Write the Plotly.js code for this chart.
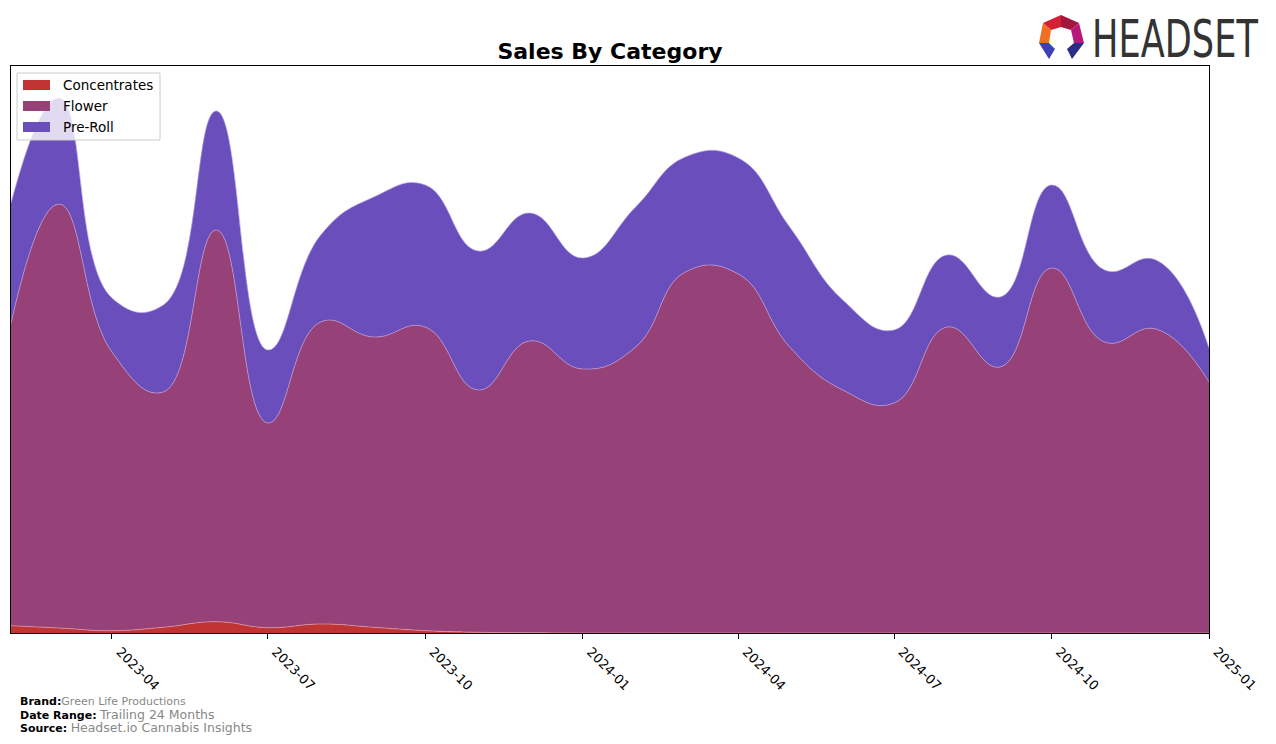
<!DOCTYPE html>
<html>
<head>
<meta charset="utf-8">
<script src="https://cdn.plot.ly/plotly-3.0.1.min.js"></script>
<style>
  html, body { margin: 0; padding: 0; background: #fff; }
  #chart { width: 1276px; height: 744px; position: relative; }
  #logo { position: absolute; left: 1030px; top: 5px; width: 246px; height: 60px; pointer-events: none; overflow: visible; }
</style>
</head>
<body>
<div id="chart"></div>
<svg id="logo" viewBox="1030 5 246 60" xmlns="http://www.w3.org/2000/svg">
  <polygon points="1043,23 1061,15 1061,27 1051,30" fill="#d41f35"/>
  <polygon points="1061,15 1079,23 1071,30 1061,27" fill="#a3173c"/>
  <polygon points="1043,23 1051,30 1049,43 1039,43" fill="#f26f22"/>
  <polygon points="1079,23 1084,43 1074,43 1071,30" fill="#b8187a"/>
  <polygon points="1039,43 1049,43 1055,49 1049,59" fill="#3d3fb5"/>
  <polygon points="1084,43 1074,43 1067,49 1072,59" fill="#2a2c85"/>
  <text transform="translate(1092,57) scale(0.69,1)" x="0" y="0" font-family="DejaVu Sans" font-size="51" fill="#333333">HEADSET</text>
</svg>
<script>
// Monthly sales by category (relative units)
const months = ['2023-02-01','2023-03-01','2023-04-01','2023-05-01','2023-06-01','2023-07-01',
                '2023-08-01','2023-09-01','2023-10-01','2023-11-01','2023-12-01','2024-01-01',
                '2024-02-01','2024-03-01','2024-04-01','2024-05-01','2024-06-01','2024-07-01',
                '2024-08-01','2024-09-01','2024-10-01','2024-11-01','2024-12-01','2025-01-01'];
const concentrates = [7.3, 5, 2.3, 5.7, 11.3, 5.3, 9, 5.7, 2.3, 0.7, 0.3, 0,
                      0, 0, 0, 0, 0, 0, 0, 0, 0, 0, 0, 0];
const flower = [302.7, 424, 278.7, 235.3, 391.7, 204.7, 302, 290.3, 303.7, 242.3, 291.7, 264,
                286, 361, 359, 286, 243, 230, 306, 266, 365, 291, 304, 251];
const preRoll = [120, 106, 54, 87, 119, 73, 87, 140, 142, 139, 128, 111,
                 140, 115, 116, 120, 90, 73, 72, 70, 83, 72, 69, 34];

const tickVals = ['2023-04-01','2023-07-01','2023-10-01','2024-01-01','2024-04-01','2024-07-01','2024-10-01','2025-01-01'];
const tickText = ['2023-04','2023-07','2023-10','2024-01','2024-04','2024-07','2024-10','2025-01'];

const seriesNames = ['Concentrates', 'Flower', 'Pre-Roll'];
const seriesValues = [concentrates, flower, preRoll];
const fills = ['#c03434', '#964278', '#694ebc'];
const edges = ['rgba(230,160,170,0.8)', 'rgba(200,160,210,0.8)', 'rgba(180,160,230,0.8)'];

const traces = seriesNames.map((name, i) => ({
  type: 'scatter',
  mode: 'lines',
  name: name,
  x: months,
  y: seriesValues[i],
  stackgroup: 'one',
  fillcolor: fills[i],
  line: { shape: 'spline', smoothing: 1.3, width: 0.8, color: edges[i] },
  hoverinfo: 'x+y+name',
  showlegend: false
}));

const W = 1276, H = 744;
const L = 11, R = 1209, T = 66, B = 633;
const px = v => (v - L) / (R - L);
const py = v => (B - v) / (B - T);

// Custom legend (box, colour patches, labels)
const shapes = [
  { type: 'rect', xref: 'paper', yref: 'paper', layer: 'above',
    x0: px(17), x1: px(160), y0: py(73), y1: py(140),
    line: { color: '#cccccc', width: 1 }, fillcolor: 'rgba(255,255,255,0.8)' }
];
const legendRows = [85, 106, 127];
seriesNames.forEach((name, i) => {
  shapes.push({ type: 'rect', xref: 'paper', yref: 'paper', layer: 'above',
    x0: px(23), x1: px(50), y0: py(legendRows[i] - 5), y1: py(legendRows[i] + 5),
    line: { width: 0 }, fillcolor: fills[i] });
});

const annotations = seriesNames.map((name, i) => ({
  text: name, x: px(61), y: py(legendRows[i]), xref: 'paper', yref: 'paper',
  xanchor: 'left', yanchor: 'middle', showarrow: false,
  font: { family: 'DejaVu Sans', size: 13.5, color: '#000000' }
}));

const footer = [
  { text: '<b>Brand:</b><span style="color:#888888">Green Life Productions</span>', y: 701 },
  { text: '<b>Date Range:</b> <span style="color:#888888;font-size:12.5px">Trailing 24 Months</span>', y: 714 },
  { text: '<b>Source:</b> <span style="color:#888888;font-size:12.5px">Headset.io Cannabis Insights</span>', y: 727 }
];
footer.forEach(f => annotations.push({
  text: f.text, x: px(18), y: py(f.y), xref: 'paper', yref: 'paper',
  xanchor: 'left', yanchor: 'middle', showarrow: false, align: 'left',
  font: { family: 'DejaVu Sans', size: 11, color: '#000000' }
}));

const layout = {
  width: W, height: H,
  margin: { l: L, r: W - R, t: T, b: H - B, pad: 0 },
  paper_bgcolor: '#ffffff',
  plot_bgcolor: '#ffffff',
  font: { family: 'DejaVu Sans', color: '#000000' },
  title: {
    text: '<b>Sales By Category</b>',
    font: { family: 'DejaVu Sans', size: 22, color: '#000000' },
    x: px(610), xref: 'paper', xanchor: 'center',
    y: 1 - 51 / H, yref: 'container', yanchor: 'middle'
  },
  showlegend: false,
  xaxis: {
    type: 'date',
    range: ['2023-02-01', '2025-01-01'],
    tickmode: 'array', tickvals: tickVals, ticktext: tickText,
    tickangle: 45,
    ticklabelshift: 8,
    ticks: 'outside', ticklen: 5, tickwidth: 1, tickcolor: '#000000',
    tickfont: { family: 'DejaVu Sans', size: 13, color: '#000000' },
    showline: true, linecolor: '#000000', linewidth: 1, mirror: true,
    showgrid: false, zeroline: false
  },
  yaxis: {
    range: [0, B - T],
    showticklabels: false, ticks: '',
    showline: true, linecolor: '#000000', linewidth: 1, mirror: true,
    showgrid: false, zeroline: false
  },
  shapes: shapes,
  annotations: annotations
};

Plotly.newPlot('chart', traces, layout, { displayModeBar: false, staticPlot: true });
</script>
</body>
</html>
